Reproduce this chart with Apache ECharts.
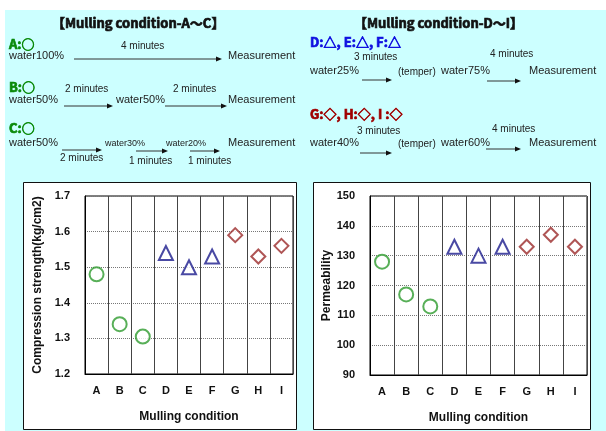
<!DOCTYPE html>
<html>
<head>
<meta charset="UTF-8">
<title>Mulling condition</title>
<script src="https://cdn.jsdelivr.net/npm/echarts@6/dist/echarts.min.js"></script>
<style>
  html, body { margin: 0; padding: 0; background: #fff; }
  #main { width: 606px; height: 431px; }
</style>
</head>
<body>
<div id="main"></div>
<script>
// data
var categories = ['A', 'B', 'C', 'D', 'E', 'F', 'G', 'H', 'I'];
var strength = [1.48, 1.34, 1.305, 1.54, 1.50, 1.53, 1.59, 1.53, 1.56];
var permeability = [128, 117, 113, 133, 130, 133, 133, 137, 133];
// marker group for each condition: 0 circle, 1 triangle, 2 diamond
var groupOf = [0, 0, 0, 1, 1, 1, 2, 2, 2];
var groupSymbol = ['emptyCircle', 'emptyTriangle', 'emptyDiamond'];
var groupColor = ['#2e9b2e', '#1c1c8c', '#9b2a2a'];
var strengthAxis = { min: 1.2, max: 1.7, interval: 0.1 };
var permAxis = { min: 90, max: 150, interval: 10 };

var FONT = '"Liberation Sans", Arial, sans-serif';
var CJK = '"Noto Sans CJK JP", sans-serif';

// split one value list into three series, one per marker group
function groupData(values, g) {
  return values.map(function(v, i) {
    return groupOf[i] == g ? [categories[i], v] : [categories[i], '-'];
  });
}

function txt(x, y, s, size, opts) {
  opts = opts || {};
  var style = {
    x: x, y: y, text: s,
    fontSize: size,
    fontFamily: opts.font || FONT,
    fontWeight: opts.bold ? 'bold' : 'normal',
    fill: opts.color || '#222',
    textVerticalAlign: 'middle'
  };
  if (opts.heavy) {
    // thicken the glyphs a little, the original headings are very heavy
    style.stroke = opts.color;
    style.lineWidth = 0.7;
  }
  return { type: 'text', style: style, z: 10 };
}

function arrow(x1, x2, y) {
  return [{
    type: 'line',
    shape: { x1: x1, y1: y, x2: x2 - 4, y2: y },
    style: { stroke: '#333', lineWidth: 1 },
    z: 10
  }, {
    type: 'polygon',
    shape: { points: [[x2 - 6, y - 2.5], [x2, y], [x2 - 6, y + 2.5]] },
    style: { fill: '#111' },
    z: 10
  }];
}

var graphics = [
  // light cyan page area
  { type: 'rect', shape: { x: 5, y: 10, width: 601, height: 421 }, style: { fill: '#ccffff' }, z: -20 },
  // white panels behind the two charts
  { type: 'rect', shape: { x: 23.5, y: 182.5, width: 273, height: 247 }, style: { fill: '#fff', stroke: '#111', lineWidth: 1 }, z: -10 },
  { type: 'rect', shape: { x: 313.5, y: 182.5, width: 277, height: 247 }, style: { fill: '#fff', stroke: '#111', lineWidth: 1 }, z: -10 },

  // left block
  txt(52, 23, '【Mulling condition-A～C】', 13, { bold: true, font: CJK, color: '#111', heavy: true }),
  txt(9, 44, 'A:○', 13, { bold: true, font: CJK, color: '#0a8a0a', heavy: true }),
  txt(121, 46, '4 minutes', 10),
  txt(9, 56, 'water100%', 11),
  txt(228, 56, 'Measurement', 11),
  txt(9, 87, 'B:○', 13, { bold: true, font: CJK, color: '#0a8a0a', heavy: true }),
  txt(65, 89, '2 minutes', 10),
  txt(173, 89, '2 minutes', 10),
  txt(9, 100, 'water50%', 11),
  txt(116, 100, 'water50%', 11),
  txt(228, 100, 'Measurement', 11),
  txt(9, 128, 'C:○', 13, { bold: true, font: CJK, color: '#0a8a0a', heavy: true }),
  txt(9, 143, 'water50%', 11),
  txt(105, 144, 'water30%', 9),
  txt(166, 144, 'water20%', 9),
  txt(228, 143, 'Measurement', 11),
  txt(60, 158, '2 minutes', 10),
  txt(129, 161, '1 minutes', 10),
  txt(188, 161, '1 minutes', 10),

  // right block
  txt(354, 23, '【Mulling condition-D～I】', 13, { bold: true, font: CJK, color: '#111', heavy: true }),
  txt(310, 42, 'D:△, E:△, F:△', 13, { bold: true, font: CJK, color: '#1010e0', heavy: true }),
  txt(354, 57, '3 minutes', 10),
  txt(490, 54, '4 minutes', 10),
  txt(310, 71, 'water25%', 11),
  txt(398, 72, '(temper)', 10),
  txt(441, 71, 'water75%', 11),
  txt(529, 71, 'Measurement', 11),
  txt(310, 114, 'G:◇, H:◇, I :◇', 13, { bold: true, font: CJK, color: '#a00000', heavy: true }),
  txt(357, 131, '3 minutes', 10),
  txt(492, 129, '4 minutes', 10),
  txt(310, 143, 'water40%', 11),
  txt(398, 144, '(temper)', 10),
  txt(441, 143, 'water60%', 11),
  txt(529, 143, 'Measurement', 11)
];
graphics = graphics
  .concat(arrow(74, 222, 59))
  .concat(arrow(64, 113, 106))
  .concat(arrow(165, 227, 106))
  .concat(arrow(62, 102, 150))
  .concat(arrow(136, 168, 151))
  .concat(arrow(190, 220, 151))
  .concat(arrow(362, 392, 80))
  .concat(arrow(487, 521, 81))
  .concat(arrow(360, 392, 153))
  .concat(arrow(486, 521, 149));

function xAxisFor(gridIndex) {
  return {
    type: 'category',
    gridIndex: gridIndex,
    data: categories,
    boundaryGap: true,
    name: 'Mulling condition',
    nameLocation: 'middle',
    nameGap: 37,
    nameTextStyle: { fontSize: 12, fontWeight: 'bold', color: '#111', fontFamily: FONT },
    axisLine: { lineStyle: { color: '#000', width: 1 } },
    axisTick: { show: false },
    axisLabel: { fontSize: 11, fontWeight: 'bold', color: '#111', margin: 11, fontFamily: FONT },
    splitLine: { show: true, lineStyle: { color: '#444', width: 1 } }
  };
}

function yAxisFor(gridIndex, rng, name, gap, digits) {
  return {
    type: 'value',
    gridIndex: gridIndex,
    min: rng.min,
    max: rng.max,
    interval: rng.interval,
    name: name,
    nameLocation: 'middle',
    nameGap: gap,
    nameTextStyle: { fontSize: 12, fontWeight: 'bold', color: '#111', fontFamily: FONT },
    axisLine: { show: true, lineStyle: { color: '#000', width: 1 } },
    axisTick: { show: false },
    axisLabel: {
      fontSize: 11, fontWeight: 'bold', color: '#111', margin: 15, fontFamily: FONT,
      formatter: function(v) { return v.toFixed(digits); }
    },
    splitLine: { show: true, lineStyle: { color: '#777', width: 1, type: 'dotted' } }
  };
}

var series = [];
[[strength, 0], [permeability, 1]].forEach(function(pair) {
  for (var g = 0; g < 3; g++) {
    series.push({
      type: 'scatter',
      xAxisIndex: pair[1],
      yAxisIndex: pair[1],
      symbol: groupSymbol[g],
      symbolSize: 14,
      itemStyle: { color: groupColor[g], borderColor: groupColor[g], borderWidth: 1.2 },
      data: groupData(pair[0], g)
    });
  }
});

var chart = echarts.init(document.getElementById('main'), null, { renderer: 'canvas' });
chart.setOption({
  animation: false,
  backgroundColor: '#fff',
  grid: [
    { left: 85, top: 196, right: 313, bottom: 57, show: true, borderColor: '#000', borderWidth: 1, backgroundColor: '#fff' },
    { left: 370, top: 196, right: 19, bottom: 56, show: true, borderColor: '#000', borderWidth: 1, backgroundColor: '#fff' }
  ],
  xAxis: [xAxisFor(0), xAxisFor(1)],
  yAxis: [
    yAxisFor(0, strengthAxis, 'Compression strength(kg/cm2)', 41, 1),
    yAxisFor(1, permAxis, 'Permeability', 36, 0)
  ],
  graphic: graphics,
  series: series
});
window.onresize = chart.resize;
</script>
</body>
</html>
